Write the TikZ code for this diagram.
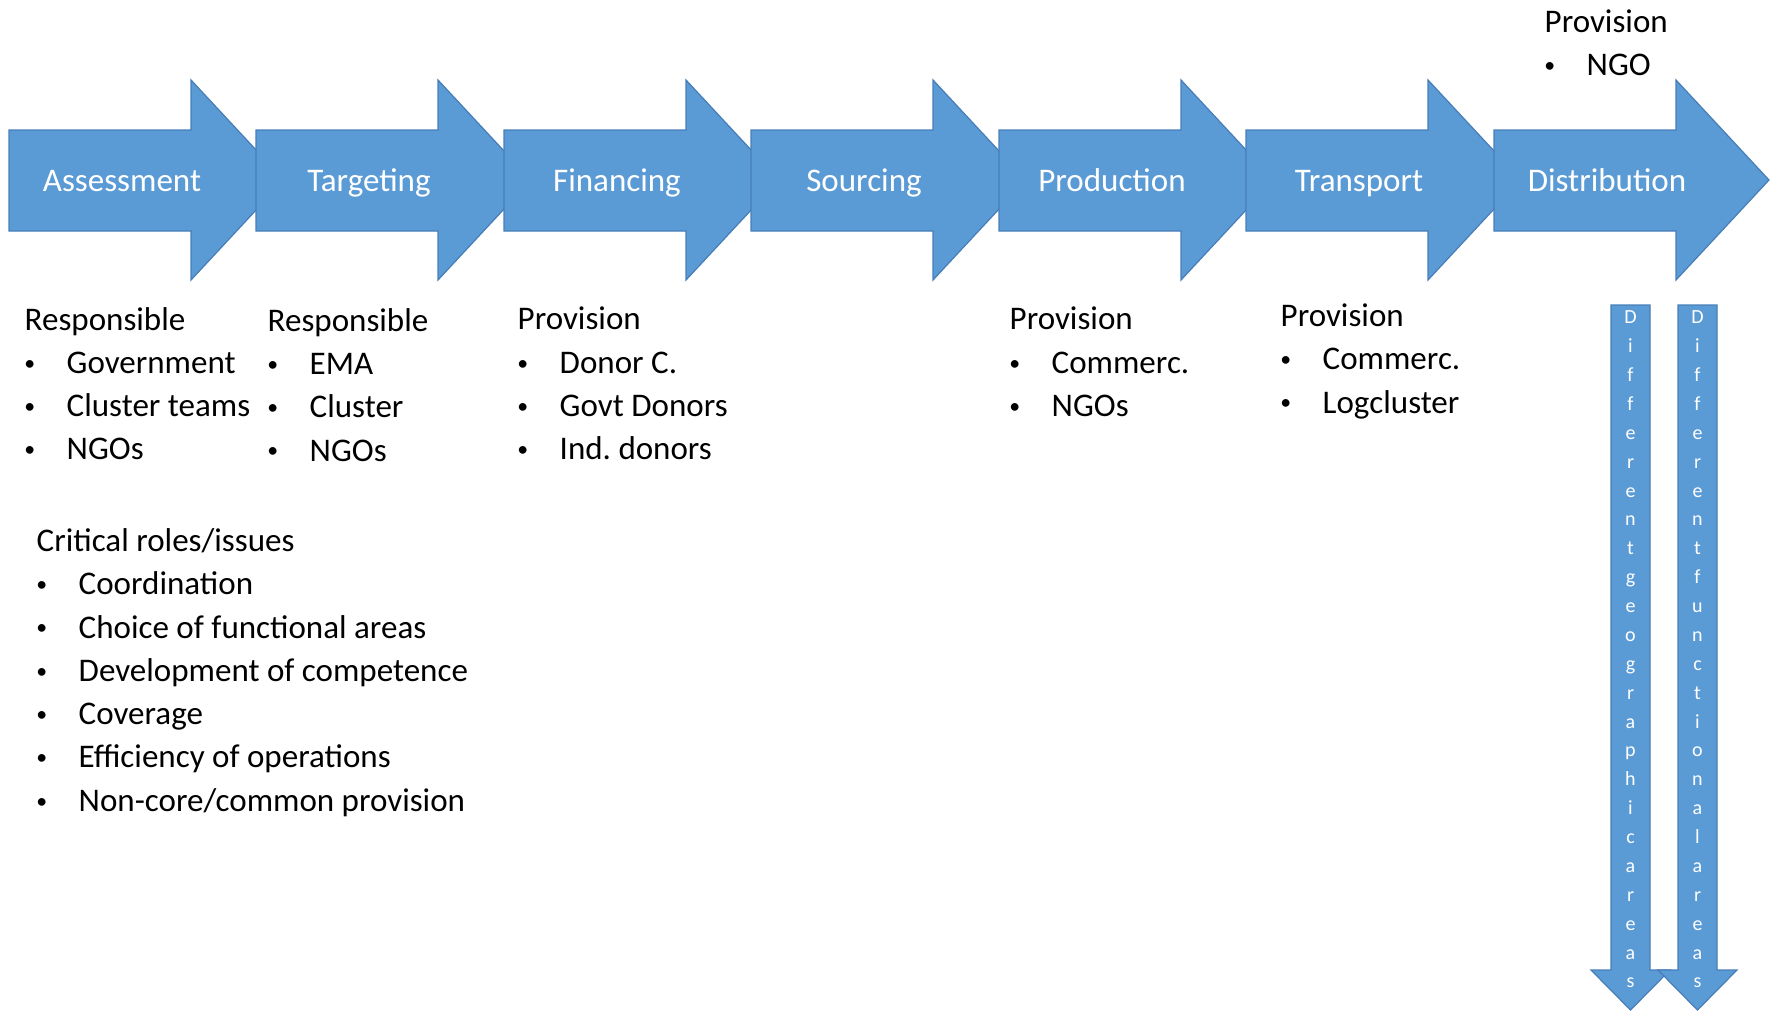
\documentclass[tikz,border=0pt]{standalone}
\usepackage{fontspec}
\setmainfont{Carlito}
\usepackage{tikz}
\usetikzlibrary{positioning, calc}

\definecolor{stageblue}{RGB}{91,155,213}
\definecolor{stageline}{RGB}{72,126,184}

% bullet with its hanging indent
\newcommand{\listbullet}{\makebox[11.95pt][l]{\hspace{-0.1pt}\raisebox{0.9pt}{\fontsize{6.2}{6}\selectfont\textbullet}}}

\begin{document}
\begin{tikzpicture}[
    x=0.01cm, y=-0.01cm,
    % Styles
    stage/.style={fill=stageblue, draw=stageline, line width=0.35pt, line join=miter},
    stage_text/.style={anchor=base, text=white, inner sep=0pt, font=\fontsize{9.39}{11}\selectfont},
    list_text/.style={anchor=north west, align=left, inner sep=0pt, font=\fontsize{9.39}{12.3}\selectfont},
    vert_text/.style={text=white, align=center, inner sep=0pt, font=\fontsize{5.7}{8.21}\selectfont}
]
    \useasboundingbox (0,0) rectangle (1771,1011);

    % --- PROCESS CHAIN ---
    % each stage arrow runs under the next one
    \draw[stage] (9,130) -- ++(182,0) -- ++(0,-50) -- ++(93,100) -- ++(-93,100) -- ++(0,-49) -- ++(-182,0) -- cycle;
    \node[stage_text] (assessment) at (122,191) {Assessment};

    \draw[stage] (256,130) -- ++(182,0) -- ++(0,-50) -- ++(93,100) -- ++(-93,100) -- ++(0,-49) -- ++(-182,0) -- cycle;
    \node[stage_text] (targeting) at (369,191) {Targeting};

    \draw[stage] (504,130) -- ++(182,0) -- ++(0,-50) -- ++(93,100) -- ++(-93,100) -- ++(0,-49) -- ++(-182,0) -- cycle;
    \node[stage_text] (financing) at (617,191) {Financing};

    \draw[stage] (751,130) -- ++(182,0) -- ++(0,-50) -- ++(93,100) -- ++(-93,100) -- ++(0,-49) -- ++(-182,0) -- cycle;
    \node[stage_text] (sourcing) at (864,191) {Sourcing};

    \draw[stage] (999,130) -- ++(182,0) -- ++(0,-50) -- ++(93,100) -- ++(-93,100) -- ++(0,-49) -- ++(-182,0) -- cycle;
    \node[stage_text] (production) at (1112,191) {Production};

    \draw[stage] (1246,130) -- ++(182,0) -- ++(0,-50) -- ++(93,100) -- ++(-93,100) -- ++(0,-49) -- ++(-182,0) -- cycle;
    \node[stage_text] (transport) at (1359,191) {Transport};

    \draw[stage] (1494,130) -- ++(182,0) -- ++(0,-50) -- ++(93,100) -- ++(-93,100) -- ++(0,-49) -- ++(-182,0) -- cycle;
    \node[stage_text] (distribution) at (1607,191) {Distribution};

    % --- ACTORS PER STAGE ---
    \node[list_text] (assess_resp) at (24,306.5)
        {Responsible\\\listbullet Government\\\listbullet Cluster teams\\\listbullet NGOs};
    \node[list_text] (target_resp) at (267,307.6)
        {Responsible\\\listbullet EMA\\\listbullet Cluster\\\listbullet NGOs};
    \node[list_text] (finance_prov) at (517,306.5)
        {Provision\\\listbullet Donor C.\\\listbullet Govt Donors\\\listbullet Ind.\ donors};
    \node[list_text] (prod_prov) at (1009,306.5)
        {Provision\\\listbullet Commerc.\\\listbullet NGOs};
    \node[list_text] (trans_prov) at (1280,303.1)
        {Provision\\\listbullet Commerc.\\\listbullet Logcluster};
    % Distribution is listed above its arrow
    \node[list_text] (distr_prov) at (1544,9)
        {Provision\\\listbullet NGO};

    % --- CRITICAL ISSUES ---
    \node[list_text] (critical) at (36,528)
        {Critical roles/issues\\\listbullet Coordination\\\listbullet Choice of functional areas\\\listbullet Development of competence\\\listbullet Coverage\\\listbullet Efficiency of operations\\\listbullet Non-core/common provision};

    % --- DOWNWARD ARROWS ---
    % left: geographic areas
    \draw[stage] (1611,305) -- (1650,305) -- (1650,970) -- (1670,970) -- (1630.5,1010) -- (1591,970) -- (1611,970) -- cycle;
    \node[vert_text] (geo_text) at (1630.5,649.5)
        {D\\i\\f\\f\\e\\r\\e\\n\\t\\g\\e\\o\\g\\r\\a\\p\\h\\i\\c\\a\\r\\e\\a\\s};

    % right: functional areas
    \draw[stage] (1678,305) -- (1717,305) -- (1717,970) -- (1737,970) -- (1697.5,1010) -- (1658,970) -- (1678,970) -- cycle;
    \node[vert_text] (func_text) at (1697.5,649.5)
        {D\\i\\f\\f\\e\\r\\e\\n\\t\\f\\u\\n\\c\\t\\i\\o\\n\\a\\l\\a\\r\\e\\a\\s};

\end{tikzpicture}
\end{document}
